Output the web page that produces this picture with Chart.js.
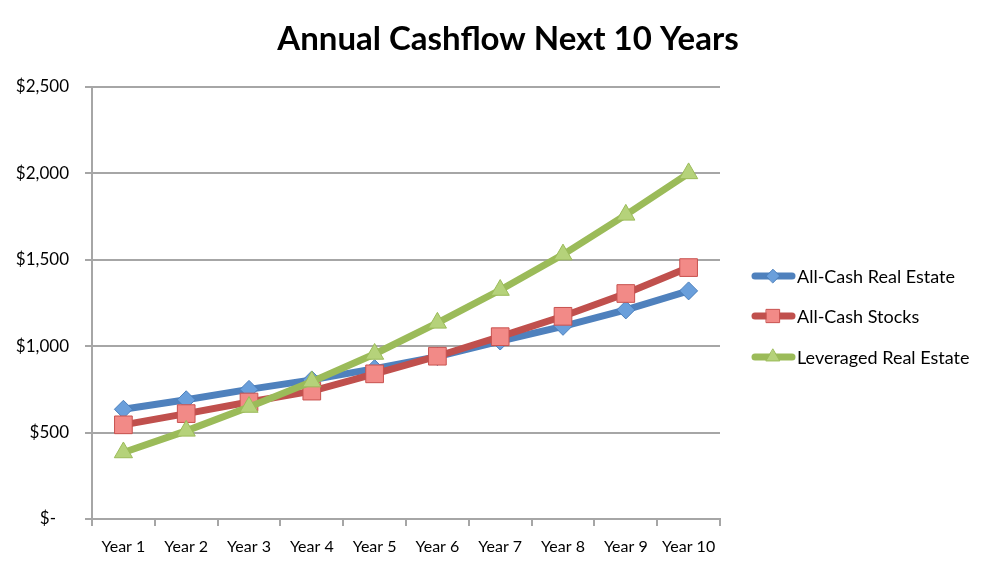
<!DOCTYPE html>
<html>
<head>
<meta charset="utf-8">
<script src="https://cdn.jsdelivr.net/npm/chart.js@4"></script>
<style>
  body { margin: 0; background: #fff; }
  #wrap { width: 1001px; height: 566px; }
</style>
</head>
<body>
<div id="wrap"><canvas id="cashflow" width="1001" height="566"></canvas></div>
<script>
const years = ["Year 1", "Year 2", "Year 3", "Year 4", "Year 5", "Year 6", "Year 7", "Year 8", "Year 9", "Year 10"];
const allCashRealEstate = [635, 690, 750, 805, 870, 940, 1030, 1115, 1210, 1320];
const allCashStocks = [545, 610, 677, 740, 840, 942, 1055, 1173, 1305, 1455];
const leveragedRealEstate = [385, 510, 648, 795, 955, 1135, 1325, 1530, 1760, 2000];
const yTicks = [0, 500, 1000, 1500, 2000, 2500];

const FONT = "Lato";
const GRID = "#a6a6a6";

const series = [
  { label: "All-Cash Real Estate", data: allCashRealEstate, line: "#4f81bd", fill: "#6a9fdb", edge: "#4a7ebb", style: "rectRot", r: 9, order: 3 },
  { label: "All-Cash Stocks", data: allCashStocks, line: "#c0504d", fill: "#f28a87", edge: "#c8524f", style: "rect", r: 12.5, order: 2 },
  { label: "Leveraged Real Estate", data: leveragedRealEstate, line: "#9bbb59", fill: "#b5d27a", edge: "#9bbb59", style: "triangle", r: 10.5, order: 1 },
];

// title + legend drawn by hand so the plot can sit left of the legend
const extras = {
  id: "extras",
  afterDraw(chart) {
    const ctx = chart.ctx;
    ctx.save();
    ctx.fillStyle = "#000";
    ctx.textAlign = "center";
    ctx.textBaseline = "middle";
    ctx.font = "bold 33px " + FONT;
    ctx.fillText("Annual Cashflow Next 10 Years", 508, 39);

    const rows = [276, 316, 357];
    series.forEach((s, i) => {
      const y = rows[i];
      ctx.strokeStyle = s.line;
      ctx.lineWidth = 7;
      ctx.lineCap = "round";
      ctx.beginPath();
      ctx.moveTo(755, y);
      ctx.lineTo(792, y);
      ctx.stroke();
      ctx.fillStyle = s.fill;
      ctx.strokeStyle = s.edge;
      ctx.lineWidth = 1;
      Chart.helpers.drawPoint(ctx, { pointStyle: s.style, rotation: 0, radius: s.r * 0.75, borderWidth: 1 }, 773, y);
      ctx.fillStyle = "#000";
      ctx.textAlign = "left";
      ctx.font = "18px " + FONT;
      ctx.fillText(s.label, 797, y + 1);
    });
    ctx.restore();
  },
};

const ctx = document.getElementById("cashflow").getContext("2d");
const chart = new Chart(ctx, {
  type: "line",
  data: {
    labels: years,
    datasets: series.map((s) => ({
      label: s.label,
      data: s.data,
      borderColor: s.line,
      borderWidth: 7,
      backgroundColor: s.fill,
      pointStyle: s.style,
      pointRadius: s.r,
      pointHoverRadius: s.r,
      pointBackgroundColor: s.fill,
      pointBorderColor: s.edge,
      pointBorderWidth: 1,
      tension: 0,
      order: s.order,
    })),
  },
  options: {
    responsive: false,
    animation: false,
    layout: { padding: { top: 87, right: 281, left: 0, bottom: 0 } },
    scales: {
      x: {
        offset: true,
        grid: { offset: true, drawOnChartArea: false, drawTicks: true, tickLength: 7, color: GRID, lineWidth: 2 },
        border: { color: GRID, width: 2 },
        ticks: { color: "#000", font: { family: FONT, size: 16 }, padding: 11, maxRotation: 0, autoSkip: false },
        afterFit: (scale) => { scale.height = 47; },
      },
      y: {
        min: 0,
        max: 2500,
        afterBuildTicks: (scale) => { scale.ticks = yTicks.map((v) => ({ value: v })); },
        grid: { color: GRID, lineWidth: 2, tickLength: 7 },
        border: { color: GRID, width: 2 },
        ticks: {
          color: "#000",
          font: { family: FONT, size: 17 },
          padding: 16,
          callback: (v) => (v === 0 ? "$-   " : "$" + v.toLocaleString("en-US")),
        },
        afterFit: (scale) => { scale.width = 92; },
      },
    },
    plugins: {
      legend: { display: false },
      title: { display: false },
      tooltip: { enabled: false },
    },
  },
  plugins: [extras],
});
</script>
</body>
</html>
